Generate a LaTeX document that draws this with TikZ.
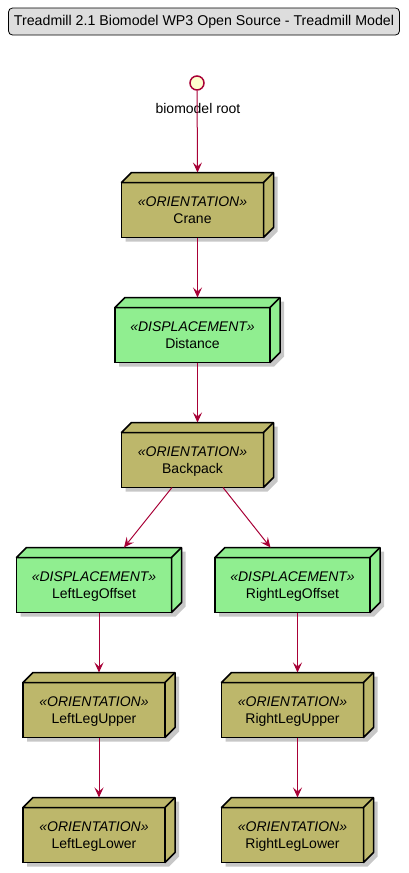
\documentclass[tikz,border=0pt]{standalone}
\usepackage{fontspec}
\setmainfont{Liberation Sans}
\usetikzlibrary{arrows.meta,positioning}
\pgfdeclarelayer{background}
\pgfsetlayers{background,main}
\definecolor{orientfill}{HTML}{BDB76B}
\definecolor{displfill}{HTML}{90EE90}
\definecolor{linkred}{HTML}{A80036}
\definecolor{rootfill}{HTML}{FEFECE}
\definecolor{titlefill}{HTML}{DDDDDD}
\tikzset{
x=1pt, y=1pt,
every node/.style={font=\fontsize{14}{17}\selectfont, align=center}, % default text
box/.style={draw, line width=1.5pt, outer sep=0pt, minimum height=55pt, inner sep=0pt}, % front face of a 3d box
orientation/.style={box, fill=orientfill, minimum width=142pt},
displacement/.style={box, fill=displfill, minimum width=155pt},
link/.style={linkred, line width=1pt, -{Stealth[length=10pt,width=9pt,inset=4pt]}}, % the arrows
}
\newcommand{\stereo}[2]{\rule{0pt}{14pt}{\itshape «#1»}\\#2\rule[-4pt]{0pt}{4pt}}

\begin{document}
\begin{tikzpicture}
		\useasboundingbox (0,0) rectangle (409,-873);

		\node[draw, fill=titlefill, rounded corners=4pt, line width=0.8pt, minimum width=391pt, minimum height=27pt, inner sep=0pt, font=\fontsize{14.2}{17}\selectfont] (title) at (204,-21.5) {Treadmill 2.1 Biomodel WP3 Open Source - Treadmill Model};

		\node[circle, draw=linkred, fill=rootfill, line width=1.5pt, minimum size=14pt, inner sep=0pt] (root) at (197,-83) {};
		\node (rootlabel) at (198,-108) {biomodel root};

		\node[orientation] (crane) at (192.5,-210) {\stereo{ORIENTATION}{Crane}};
		\node[displacement, below=70pt of crane] (distance) {\stereo{DISPLACEMENT}{Distance}};
		\node[orientation, below=70pt of distance] (backpack) {\stereo{ORIENTATION}{Backpack}};
		\node[displacement, below=70pt of backpack, xshift=-98.5pt] (leftoffset) {\stereo{DISPLACEMENT}{LeftLegOffset}};
		\node[displacement, below=70pt of backpack, xshift=100pt] (rightoffset) {\stereo{DISPLACEMENT}{RightLegOffset}};
		\node[orientation, below=70pt of leftoffset] (leftupper) {\stereo{ORIENTATION}{LeftLegUpper}};
		\node[orientation, below=70pt of rightoffset] (rightupper) {\stereo{ORIENTATION}{RightLegUpper}};
		\node[orientation, below=70pt of leftupper] (leftlower) {\stereo{ORIENTATION}{LeftLegLower}};
		\node[orientation, below=70pt of rightupper] (rightlower) {\stereo{ORIENTATION}{RightLegLower}};

		% top and side faces, with shadow behind
		\foreach \n/\c in {crane/orientfill, distance/displfill, backpack/orientfill, leftoffset/displfill, rightoffset/displfill, leftupper/orientfill, rightupper/orientfill, leftlower/orientfill, rightlower/orientfill} {
			\begin{pgfonlayer}{background}
				\fill[black!22] ([shift={(4,-4)}]\n.south west) -- ([shift={(4,-4)}]\n.north west) -- ([shift={(14,6)}]\n.north west) -- ([shift={(14,6)}]\n.north east) -- ([shift={(14,6)}]\n.south east) -- ([shift={(4,-4)}]\n.south east) -- cycle;
			\end{pgfonlayer}
			\draw[line width=1.5pt, line join=round, fill=\c] (\n.north west) -- ([shift={(10,10)}]\n.north west) -- ([shift={(10,10)}]\n.north east) -- ([shift={(10,10)}]\n.south east) -- (\n.south east) -- (\n.north east) -- cycle;
			\draw[line width=1.5pt] (\n.north east) -- ([shift={(10,10)}]\n.north east);
		}

		\draw[link] (root) -- ([shift={(5,10)}]crane.north);
		\draw[link] ([xshift=5pt]crane.south) -- ([shift={(5,10)}]distance.north);
		\draw[link] ([xshift=5pt]distance.south) -- ([shift={(5,10)}]backpack.north);
		\draw[link] ([xshift=-20.5pt]backpack.south) -- ([shift={(30,10)}]leftoffset.north);
		\draw[link] ([xshift=30.5pt]backpack.south) -- ([shift={(-22,10)}]rightoffset.north);
		\draw[link] ([xshift=5pt]leftoffset.south) -- ([shift={(5,10)}]leftupper.north);
		\draw[link] ([xshift=5pt]rightoffset.south) -- ([shift={(5,10)}]rightupper.north);
		\draw[link] ([xshift=5pt]leftupper.south) -- ([shift={(5,10)}]leftlower.north);
		\draw[link] ([xshift=5pt]rightupper.south) -- ([shift={(5,10)}]rightlower.north);
	\end{tikzpicture}
\end{document}
